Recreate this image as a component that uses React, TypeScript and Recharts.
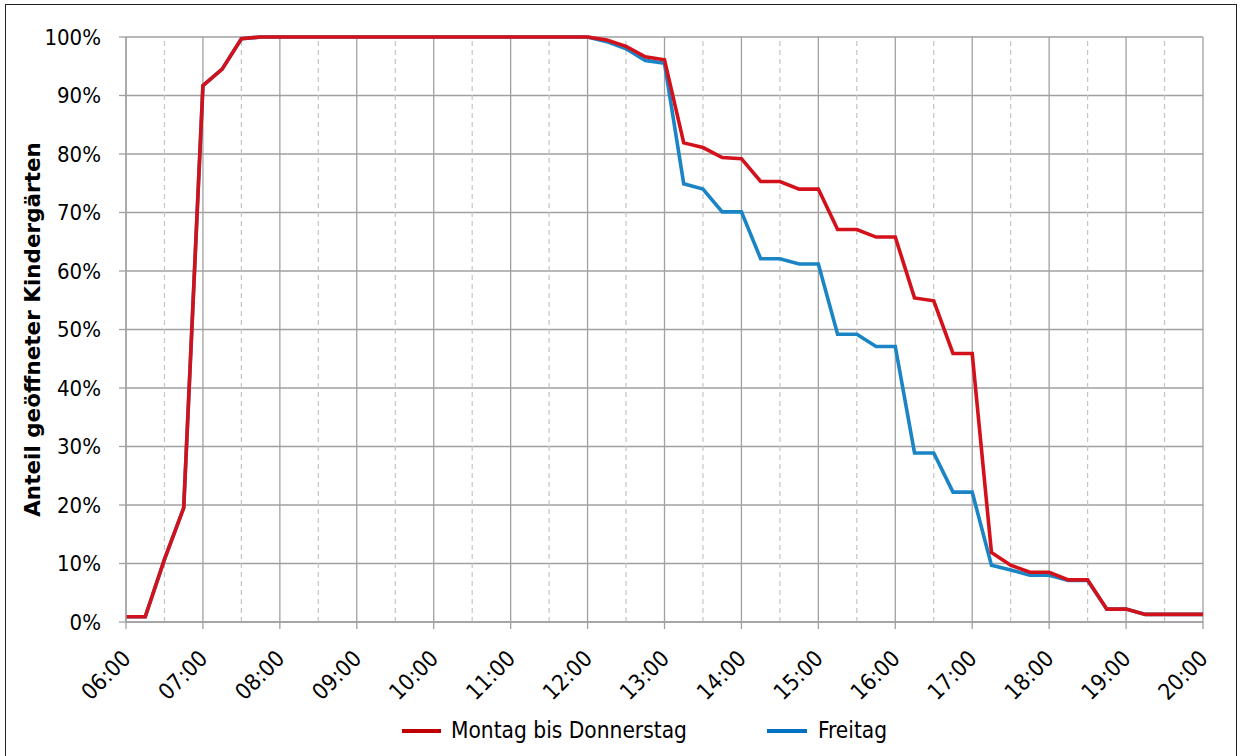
import React from "react";
import {
  LineChart,
  Line,
  XAxis,
  YAxis,
  CartesianGrid,
  ReferenceLine,
  Legend,
} from "recharts";

// Uhrzeiten im Viertelstundentakt
const times = [
  "06:00", "06:15", "06:30", "06:45", "07:00", "07:15", "07:30", "07:45",
  "08:00", "08:15", "08:30", "08:45", "09:00", "09:15", "09:30", "09:45",
  "10:00", "10:15", "10:30", "10:45", "11:00", "11:15", "11:30", "11:45",
  "12:00", "12:15", "12:30", "12:45", "13:00", "13:15", "13:30", "13:45",
  "14:00", "14:15", "14:30", "14:45", "15:00", "15:15", "15:30", "15:45",
  "16:00", "16:15", "16:30", "16:45", "17:00", "17:15", "17:30", "17:45",
  "18:00", "18:15", "18:30", "18:45", "19:00", "19:15", "19:30", "19:45",
  "20:00",
];

// Anteil geöffneter Kindergärten (%) – Montag bis Donnerstag
const montagBisDonnerstag = [
  0.9, 0.9, 10.7, 19.5, 91.7, 94.5, 99.7, 100,
  100, 100, 100, 100, 100, 100, 100, 100,
  100, 100, 100, 100, 100, 100, 100, 100,
  100, 99.5, 98.4, 96.6, 96.1, 81.9, 81.1, 79.4,
  79.2, 75.3, 75.3, 74.0, 74.0, 67.1, 67.1, 65.8,
  65.8, 55.4, 54.9, 45.9, 45.9, 11.9, 9.7, 8.5,
  8.5, 7.2, 7.2, 2.2, 2.2, 1.3, 1.3, 1.3,
  1.3,
];

// Anteil geöffneter Kindergärten (%) – Freitag
const freitag = [
  0.9, 0.9, 10.7, 19.5, 91.7, 94.5, 99.7, 100,
  100, 100, 100, 100, 100, 100, 100, 100,
  100, 100, 100, 100, 100, 100, 100, 100,
  100, 99.2, 98.0, 96.0, 95.5, 74.9, 74.0, 70.1,
  70.1, 62.1, 62.1, 61.2, 61.2, 49.2, 49.2, 47.1,
  47.1, 28.9, 28.9, 22.2, 22.2, 9.7, 8.9, 8.0,
  8.0, 7.1, 7.1, 2.2, 2.2, 1.3, 1.3, 1.3,
  1.3,
];

// Beschriftete Stunden der x-Achse
const hourLabels = [
  "06:00", "07:00", "08:00", "09:00", "10:00", "11:00", "12:00", "13:00",
  "14:00", "15:00", "16:00", "17:00", "18:00", "19:00", "20:00",
];

// Halbstunden mit gestrichelten Hilfslinien
const halfHourLabels = [
  "06:30", "07:30", "08:30", "09:30", "10:30", "11:30", "12:30",
  "13:30", "14:30", "15:30", "16:30", "17:30", "18:30", "19:30",
];

const percentTicks = [0, 10, 20, 30, 40, 50, 60, 70, 80, 90, 100];

const seriesNames = ["Montag bis Donnerstag", "Freitag"];

const toHours = (t: string) => {
  const [h, m] = t.split(":").map(Number);
  return h + m / 60;
};

const hourToLabel = (v: number) => {
  const h = Math.floor(v);
  const m = Math.round((v - h) * 60);
  return `${String(h).padStart(2, "0")}:${String(m).padStart(2, "0")}`;
};

const data = times.map((t, i) => ({
  hour: toHours(t),
  mo: montagBisDonnerstag[i],
  fr: freitag[i],
}));

const FONT = '"DejaVu Sans Condensed", "DejaVu Sans", sans-serif';
const TITLE_FONT = '"DejaVu Sans", sans-serif';
const RED = "#D3111B";
const BLUE = "#1A84C5";
const GRID = "#a0a0a0";

const XTick = (props: any) => {
  const { x, payload } = props;
  const ax = x + 6;
  const ay = 660;
  return (
    <text
      x={ax}
      y={ay}
      transform={`rotate(-45, ${ax}, ${ay})`}
      textAnchor="end"
      fontFamily={FONT}
      fontSize={22.5}
      fill="#000"
    >
      {hourToLabel(payload.value)}
    </text>
  );
};

const LegendContent = () => (
  <div style={{ position: "relative", width: 1240, height: 40, fontFamily: FONT }}>
    <div style={{ position: "absolute", left: 402, top: 18, width: 39, height: 4, background: "#C00000" }} />
    <div style={{ position: "absolute", left: 451, top: 5, fontSize: 22.5, lineHeight: "28px", color: "#000", whiteSpace: "nowrap" }}>
      {seriesNames[0]}
    </div>
    <div style={{ position: "absolute", left: 767, top: 18, width: 40, height: 4, background: "#0070C0" }} />
    <div style={{ position: "absolute", left: 818, top: 5, fontSize: 22.5, lineHeight: "28px", color: "#000", whiteSpace: "nowrap" }}>
      {seriesNames[1]}
    </div>
  </div>
);

export default function App() {
  return (
    <div style={{ position: "absolute", left: 0, top: 0, width: 1240, height: 756, overflow: "hidden", background: "#fff", fontFamily: FONT }}>
      <div
        style={{
          position: "absolute",
          left: 5,
          top: 4,
          width: 1232,
          height: 770,
          border: "1.5px solid #222",
          boxSizing: "border-box",
        }}
      />
      <div style={{ position: "absolute", left: 0, top: 0 }}>
        <LineChart
          width={1240}
          height={756}
          data={data}
          margin={{ top: 37, right: 37, left: 0, bottom: 5 }}
        >
          <CartesianGrid stroke={GRID} strokeWidth={1.3} />
          {halfHourLabels.map((t) => (
            <ReferenceLine
              key={t}
              x={toHours(t)}
              stroke="#c4c4c4"
              strokeWidth={1.2}
              strokeDasharray="5 4"
            />
          ))}
          <XAxis
            dataKey="hour"
            type="number"
            domain={[6, 20]}
            ticks={hourLabels.map(toHours)}
            interval={0}
            height={89}
            tick={<XTick />}
            tickSize={7}
            tickLine={{ stroke: GRID, strokeWidth: 1.3 }}
            axisLine={{ stroke: GRID, strokeWidth: 1.3 }}
          />
          <YAxis
            type="number"
            domain={[0, 100]}
            ticks={percentTicks}
            interval={0}
            width={126}
            tickFormatter={(v: number) => `${v}%`}
            tick={{ fontFamily: FONT, fontSize: 22, fill: "#000" }}
            tickSize={7}
            tickMargin={18}
            tickLine={{ stroke: GRID, strokeWidth: 1.3 }}
            axisLine={{ stroke: GRID, strokeWidth: 1.3 }}
            label={{
              content: (p: any) => {
                const vb = p.viewBox || { x: 0, y: 37, width: 126, height: 585 };
                const cx = 32;
                const cy = vb.y + vb.height / 2;
                return (
                  <text
                    x={cx}
                    y={cy}
                    transform={`rotate(-90, ${cx}, ${cy})`}
                    textAnchor="middle"
                    dominantBaseline="central"
                    fontFamily={TITLE_FONT}
                    fontWeight="bold"
                    fontSize={21.5}
                    fill="#000"
                  >
                    Anteil geöffneter Kindergärten
                  </text>
                );
              },
            }}
          />
          <Legend
            verticalAlign="bottom"
            content={<LegendContent />}
            wrapperStyle={{ left: 0, width: 1240, height: 40 }}
          />
          <Line
            type="linear"
            dataKey="fr"
            name={seriesNames[1]}
            stroke={BLUE}
            strokeWidth={3.6}
            dot={false}
            activeDot={false}
            isAnimationActive={false}
          />
          <Line
            type="linear"
            dataKey="mo"
            name={seriesNames[0]}
            stroke={RED}
            strokeWidth={3.6}
            dot={false}
            activeDot={false}
            isAnimationActive={false}
          />
        </LineChart>
      </div>
    </div>
  );
}
